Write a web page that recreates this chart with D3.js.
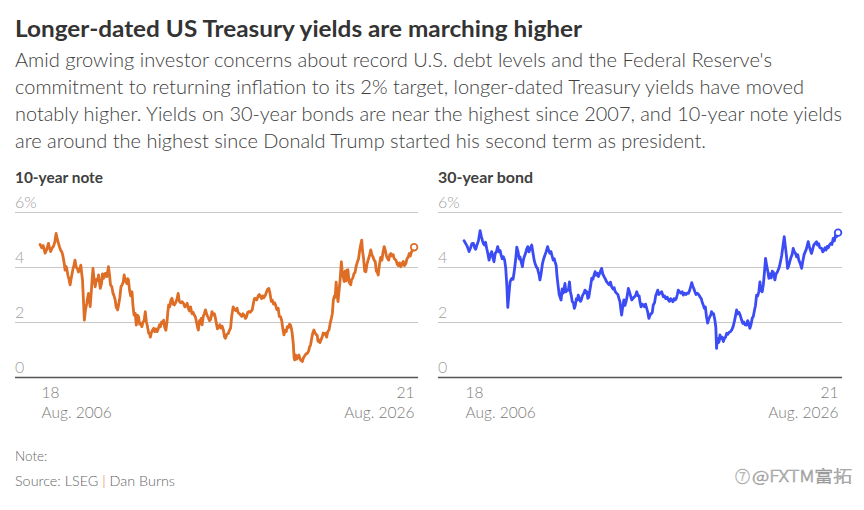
<!DOCTYPE html>
<html><head><meta charset="utf-8">
<script src="https://cdn.jsdelivr.net/npm/d3@7"></script>
<style>
body{margin:0;background:#fff;}
svg{display:block;font-family:Lato,"Open Sans",sans-serif;}
</style></head><body>
<svg id="c" width="864" height="510"></svg>
<script>
// ---- data (decimal year, yield %) ----
const tenDates = [2006.63,2006.72,2006.80,2006.90,2006.98,2007.08,2007.14,2007.20,2007.28,2007.34,2007.42,2007.49,2007.55,2007.62,2007.67,2007.74,2007.79,2007.84,2007.88,2007.93,2007.97,2008.02,2008.06,2008.12,2008.18,2008.24,2008.30,2008.38,2008.44,2008.50,2008.56,2008.62,2008.68,2008.75,2008.81,2008.86,2008.90,2008.95,2009.00,2009.06,2009.13,2009.18,2009.22,2009.27,2009.31,2009.36,2009.41,2009.46,2009.52,2009.58,2009.64,2009.70,2009.76,2009.81,2009.85,2009.92,2009.97,2010.03,2010.08,2010.12,2010.20,2010.29,2010.34,2010.40,2010.47,2010.53,2010.59,2010.65,2010.70,2010.78,2010.84,2010.90,2010.96,2011.02,2011.08,2011.13,2011.20,2011.28,2011.32,2011.36,2011.42,2011.48,2011.55,2011.60,2011.66,2011.72,2011.78,2011.84,2011.90,2011.96,2012.02,2012.08,2012.14,2012.20,2012.26,2012.32,2012.38,2012.44,2012.50,2012.53,2012.58,2012.64,2012.71,2012.76,2012.82,2012.89,2012.95,2013.02,2013.07,2013.13,2013.19,2013.24,2013.30,2013.36,2013.42,2013.47,2013.51,2013.57,2013.63,2013.69,2013.75,2013.81,2013.88,2013.96,2014.02,2014.08,2014.15,2014.23,2014.30,2014.38,2014.44,2014.50,2014.56,2014.62,2014.68,2014.76,2014.82,2014.88,2014.94,2015.00,2015.06,2015.10,2015.16,2015.20,2015.25,2015.30,2015.36,2015.42,2015.48,2015.54,2015.60,2015.65,2015.70,2015.76,2015.83,2015.90,2015.96,2016.00,2016.05,2016.12,2016.19,2016.25,2016.30,2016.37,2016.44,2016.50,2016.55,2016.62,2016.70,2016.76,2016.82,2016.88,2016.96,2017.03,2017.10,2017.17,2017.22,2017.30,2017.35,2017.42,2017.48,2017.55,2017.62,2017.68,2017.74,2017.80,2017.87,2017.93,2017.98,2018.05,2018.10,2018.15,2018.22,2018.30,2018.36,2018.42,2018.48,2018.54,2018.60,2018.69,2018.75,2018.81,2018.87,2018.93,2019.00,2019.05,2019.12,2019.18,2019.23,2019.30,2019.37,2019.43,2019.50,2019.56,2019.62,2019.68,2019.74,2019.80,2019.86,2019.92,2019.98,2020.03,2020.08,2020.12,2020.18,2020.22,2020.25,2020.30,2020.36,2020.42,2020.48,2020.54,2020.60,2020.66,2020.72,2020.80,2020.87,2020.93,2021.00,2021.05,2021.10,2021.16,2021.22,2021.28,2021.34,2021.40,2021.46,2021.50,2021.55,2021.60,2021.66,2021.73,2021.78,2021.84,2021.90,2021.96,2022.02,2022.09,2022.15,2022.22,2022.27,2022.32,2022.38,2022.42,2022.47,2022.52,2022.57,2022.62,2022.68,2022.75,2022.80,2022.85,2022.90,2022.95,2023.00,2023.04,2023.10,2023.16,2023.25,2023.30,2023.36,2023.42,2023.48,2023.55,2023.61,2023.67,2023.74,2023.80,2023.84,2023.88,2023.94,2024.00,2024.06,2024.12,2024.18,2024.25,2024.32,2024.38,2024.44,2024.50,2024.56,2024.62,2024.68,2024.72,2024.78,2024.85,2024.92,2024.98,2025.04,2025.10,2025.16,2025.22,2025.28,2025.34,2025.40,2025.46,2025.52,2025.58,2025.67,2025.74,2025.80,2025.86,2025.93,2026.00,2026.06,2026.12,2026.20,2026.26,2026.32,2026.38,2026.44,2026.50,2026.56,2026.64];
const tenValues = [4.82,4.70,4.78,4.50,4.62,4.86,4.68,4.56,4.70,4.74,4.90,5.22,5.02,4.85,4.74,4.60,4.56,4.45,4.31,4.10,3.89,4.02,3.95,3.70,3.55,3.35,3.60,3.89,4.05,4.25,4.00,3.95,3.82,3.90,4.07,3.75,3.53,2.80,2.07,2.45,2.68,2.90,3.04,2.75,2.56,3.00,3.50,3.95,3.55,3.28,3.55,3.50,3.71,3.45,3.22,3.40,3.75,3.59,3.70,3.77,3.65,4.01,3.75,3.35,3.28,3.05,2.95,2.80,2.55,2.44,2.65,2.90,3.28,3.35,3.45,3.71,3.50,3.40,3.58,3.53,3.15,2.95,3.10,2.60,2.25,2.32,1.89,2.25,2.19,1.92,1.95,1.83,2.00,2.05,2.38,2.00,1.83,1.60,1.55,1.45,1.60,1.70,1.77,1.65,1.75,1.65,1.75,1.90,1.83,2.00,1.95,2.07,1.80,1.70,2.00,2.40,2.62,2.55,2.80,2.86,2.65,2.62,2.70,2.85,3.04,2.75,2.70,2.74,2.68,2.55,2.60,2.68,2.50,2.40,2.55,2.30,2.35,2.25,2.19,2.00,1.80,1.71,2.05,1.95,2.13,1.90,2.20,2.30,2.44,2.30,2.20,2.13,2.05,2.10,2.38,2.25,2.30,2.19,2.00,1.75,1.83,1.90,1.78,1.85,1.70,1.45,1.41,1.55,1.58,1.70,1.77,2.20,2.55,2.45,2.42,2.50,2.35,2.30,2.26,2.20,2.30,2.25,2.13,2.20,2.35,2.38,2.35,2.40,2.44,2.70,2.85,2.86,2.80,2.95,3.00,2.92,2.85,2.95,2.88,2.98,3.10,3.20,3.22,3.05,2.75,2.80,2.65,2.70,2.62,2.45,2.50,2.20,2.19,2.05,1.75,1.53,1.70,1.65,1.83,1.80,1.92,1.89,1.75,1.59,1.20,0.70,0.62,0.80,0.65,0.75,0.80,0.65,0.60,0.56,0.70,0.78,0.85,0.86,0.95,1.10,1.16,1.40,1.60,1.71,1.60,1.55,1.50,1.30,1.35,1.25,1.35,1.47,1.60,1.55,1.59,1.45,1.65,1.71,1.95,2.15,2.32,2.80,2.95,2.90,3.45,3.00,2.74,3.10,3.50,4.19,3.80,3.65,3.47,3.85,3.50,3.89,3.90,3.45,3.35,3.55,3.59,3.75,3.80,4.05,4.19,4.30,4.65,4.85,4.98,4.60,4.30,3.85,3.83,4.10,4.25,4.40,4.62,4.45,4.37,4.25,4.20,3.85,3.80,3.71,4.05,4.35,4.25,4.55,4.74,4.60,4.40,4.31,4.25,4.45,4.49,4.40,4.45,4.30,4.25,4.10,4.05,4.15,4.01,4.12,4.20,4.05,4.13,4.30,4.35,4.49,4.40,4.55,4.60,4.72];

const thirtyDates = [2006.63,2006.72,2006.80,2006.90,2006.98,2007.05,2007.13,2007.20,2007.25,2007.32,2007.40,2007.49,2007.56,2007.62,2007.66,2007.72,2007.78,2007.84,2007.90,2007.97,2008.04,2008.11,2008.17,2008.23,2008.30,2008.36,2008.43,2008.50,2008.56,2008.61,2008.67,2008.73,2008.80,2008.86,2008.92,2008.97,2009.03,2009.09,2009.15,2009.20,2009.25,2009.30,2009.36,2009.41,2009.45,2009.52,2009.58,2009.62,2009.68,2009.75,2009.80,2009.85,2009.92,2009.98,2010.04,2010.10,2010.16,2010.25,2010.32,2010.38,2010.43,2010.50,2010.56,2010.60,2010.65,2010.69,2010.75,2010.82,2010.87,2010.94,2011.02,2011.10,2011.16,2011.22,2011.28,2011.34,2011.40,2011.46,2011.50,2011.56,2011.60,2011.64,2011.67,2011.72,2011.77,2011.82,2011.88,2011.94,2012.03,2012.08,2012.15,2012.21,2012.27,2012.32,2012.37,2012.42,2012.48,2012.53,2012.58,2012.64,2012.70,2012.74,2012.80,2012.86,2012.90,2012.96,2013.04,2013.10,2013.16,2013.20,2013.25,2013.30,2013.36,2013.42,2013.46,2013.52,2013.58,2013.64,2013.70,2013.76,2013.82,2013.90,2013.99,2014.05,2014.12,2014.20,2014.26,2014.33,2014.40,2014.46,2014.53,2014.60,2014.66,2014.72,2014.80,2014.86,2014.92,2014.97,2015.02,2015.06,2015.12,2015.18,2015.24,2015.30,2015.36,2015.42,2015.48,2015.54,2015.60,2015.66,2015.72,2015.80,2015.87,2015.94,2016.00,2016.04,2016.10,2016.16,2016.22,2016.28,2016.34,2016.40,2016.46,2016.52,2016.58,2016.64,2016.70,2016.75,2016.82,2016.88,2016.94,2016.99,2017.05,2017.12,2017.20,2017.29,2017.36,2017.42,2017.50,2017.56,2017.62,2017.68,2017.74,2017.80,2017.86,2017.92,2017.98,2018.04,2018.09,2018.16,2018.22,2018.30,2018.36,2018.42,2018.50,2018.56,2018.63,2018.70,2018.76,2018.81,2018.87,2018.93,2018.98,2019.04,2019.10,2019.18,2019.25,2019.32,2019.38,2019.44,2019.48,2019.54,2019.60,2019.66,2019.72,2019.78,2019.83,2019.87,2019.93,2019.98,2020.05,2020.10,2020.14,2020.18,2020.24,2020.28,2020.32,2020.38,2020.44,2020.50,2020.56,2020.62,2020.68,2020.74,2020.80,2020.88,2020.95,2021.03,2021.10,2021.16,2021.21,2021.28,2021.34,2021.40,2021.48,2021.54,2021.60,2021.66,2021.75,2021.80,2021.86,2021.92,2021.98,2022.05,2022.10,2022.16,2022.22,2022.28,2022.34,2022.40,2022.46,2022.52,2022.58,2022.64,2022.70,2022.76,2022.82,2022.88,2022.94,2023.00,2023.06,2023.12,2023.18,2023.26,2023.32,2023.38,2023.44,2023.50,2023.56,2023.62,2023.68,2023.76,2023.82,2023.88,2023.94,2024.00,2024.06,2024.12,2024.18,2024.24,2024.30,2024.36,2024.42,2024.48,2024.54,2024.60,2024.65,2024.69,2024.75,2024.82,2024.88,2024.94,2025.04,2025.10,2025.16,2025.22,2025.28,2025.34,2025.40,2025.49,2025.54,2025.60,2025.66,2025.76,2025.82,2025.88,2025.94,2026.00,2026.06,2026.12,2026.18,2026.25,2026.31,2026.38,2026.44,2026.50,2026.56,2026.64];
const thirtyValues = [4.96,4.85,4.75,4.56,4.70,4.85,4.86,4.70,4.64,4.80,4.95,5.32,5.10,4.95,4.86,4.80,4.90,4.68,4.50,4.25,4.45,4.56,4.35,4.19,4.50,4.55,4.74,4.55,4.60,4.44,4.30,4.37,4.25,3.95,3.30,2.53,3.00,3.46,3.55,3.59,3.55,3.77,4.10,4.40,4.72,4.55,4.30,4.37,4.20,4.01,4.25,4.37,4.50,4.65,4.74,4.55,4.65,4.80,4.50,4.25,4.13,4.00,3.95,3.83,3.70,3.53,3.75,4.10,4.25,4.40,4.55,4.74,4.60,4.50,4.56,4.40,4.25,4.30,4.19,4.05,3.70,3.45,3.28,3.00,2.90,2.80,3.20,3.05,3.40,3.10,3.15,3.16,3.46,3.10,2.95,2.74,2.70,2.50,2.60,2.85,2.80,2.98,2.85,2.75,2.80,2.95,3.05,3.16,3.05,3.10,2.86,2.90,3.15,3.40,3.59,3.55,3.70,3.83,3.70,3.77,3.65,3.80,3.95,3.75,3.65,3.55,3.46,3.40,3.35,3.45,3.28,3.20,3.25,3.10,3.04,3.00,2.85,2.74,2.45,2.25,2.55,2.80,2.60,2.75,2.95,3.22,3.10,2.95,2.80,2.85,2.90,2.95,3.10,2.95,2.95,2.74,2.55,2.65,2.62,2.55,2.65,2.50,2.35,2.13,2.25,2.30,2.35,2.62,2.70,2.95,3.05,3.16,3.00,3.05,3.10,2.92,2.95,2.85,2.90,2.80,2.75,2.85,2.80,2.74,2.85,2.80,2.85,3.00,3.16,3.10,3.05,3.10,2.98,3.05,3.00,3.05,3.04,3.15,3.30,3.43,3.30,3.20,3.10,3.00,3.05,3.00,2.92,2.85,2.70,2.60,2.50,2.55,2.20,1.96,2.10,2.20,2.25,2.38,2.30,2.30,2.07,1.80,1.04,1.40,1.25,1.30,1.53,1.40,1.45,1.29,1.40,1.45,1.59,1.55,1.62,1.65,1.71,1.85,2.05,2.25,2.44,2.30,2.35,2.25,2.07,1.95,2.00,1.90,1.89,2.05,1.95,1.77,1.90,2.15,2.19,2.40,2.60,2.98,2.95,3.10,3.46,3.15,3.10,3.35,3.80,4.31,4.05,3.85,3.59,3.75,3.60,3.85,3.80,3.53,3.75,3.80,3.90,4.01,4.20,4.40,4.70,5.10,4.75,4.40,3.95,4.05,4.20,4.35,4.45,4.68,4.55,4.50,4.37,4.45,4.25,4.15,4.05,3.95,4.20,4.45,4.55,4.65,4.92,4.75,4.60,4.49,4.65,4.80,4.85,4.92,4.80,4.85,4.70,4.68,4.55,4.60,4.70,4.62,4.75,4.70,4.80,4.86,4.82,5.04,4.95,5.15,5.10,5.25];

const yTicks = [0, 2, 4, 6];
const yTickLabels = ["0", "2", "4", "6%"];
const xTickDates = ["2006-08-18", "2026-08-21"];
const xTickDays = ["18", "21"];
const xTickMonths = ["Aug. 2006", "Aug. 2026"];

const titleText = "Longer-dated US Treasury yields are marching higher";
const bodyLines = [
  "Amid growing investor concerns about record U.S. debt levels and the Federal Reserve's",
  "commitment to returning inflation to its 2% target, longer-dated Treasury yields have moved",
  "notably higher. Yields on 30-year bonds are near the highest since 2007, and 10-year note yields",
  "are around the highest since Donald Trump started his second term as president."
];

// ---- helpers ----
function yearToDate(y){
  const yr = Math.floor(y), f = y - yr;
  const a = Date.UTC(yr,0,1), b = Date.UTC(yr+1,0,1);
  return new Date(a + f*(b-a));
}
const svg = d3.select("#c");

// ---- header ----
svg.append("text").attr("x",15).attr("y",36.5)
  .attr("font-size",22.5).attr("font-weight",700).attr("fill","#333")
  .attr("textLength",567).attr("lengthAdjust","spacingAndGlyphs")
  .text(titleText);
const bodyW = [757, 789, 827, 691];
bodyLines.forEach((t,i)=>{
  svg.append("text").attr("x",15).attr("y",67+i*27)
    .attr("font-size",19.5).attr("font-weight",300).attr("fill","#404040")
    .attr("textLength",bodyW[i]).attr("lengthAdjust","spacingAndGlyphs")
    .text(t);
});

// ---- panels ----
const panels = [
  {title:"10-year note", tw:88, x0:15, x1:418, lx0:40, lx1:414, dates:tenDates, vals:tenValues, color:"#de6d26"},
  {title:"30-year bond", tw:95, x0:438, x1:842, lx0:464, lx1:838, dates:thirtyDates, vals:thirtyValues, color:"#3b4cf5"}
];
const y = d3.scaleLinear().domain([0,6]).range([377,212]);
const tickFont = "Lato, sans-serif";

panels.forEach(p=>{
  const g = svg.append("g");
  g.append("text").attr("x",p.x0).attr("y",183)
    .attr("font-size",14.5).attr("font-weight",700).attr("fill","#404040")
    .attr("textLength",p.tw).attr("lengthAdjust","spacingAndGlyphs")
    .text(p.title);

  const x = d3.scaleUtc()
    .domain([new Date(xTickDates[0]+"T00:00:00Z"), new Date(xTickDates[1]+"T00:00:00Z")])
    .range([p.lx0, p.lx1]);

  // y axis with gridlines
  const yAxis = d3.axisRight(y).tickValues(yTicks)
    .tickSize(p.x1 - p.x0)
    .tickFormat((d,i)=>yTickLabels[i]);
  const ya = g.append("g").attr("transform",`translate(${p.x0},0)`).call(yAxis);
  ya.select(".domain").remove();
  ya.selectAll(".tick line").attr("stroke",d=>d===0?"#555":"#c8c8c8").attr("stroke-width",d=>d===0?1.6:1);
  ya.selectAll(".tick text").attr("x",0).attr("y",0).attr("dy",-5).attr("text-anchor","start")
    .attr("font-family",tickFont).attr("font-size",16).attr("font-weight",300).attr("fill","#a0a0a0");

  // x axis
  const xAxis = d3.axisBottom(x)
    .tickValues(xTickDates.map(s=>new Date(s+"T00:00:00Z")))
    .tickSize(0).tickFormat("");
  const xa = g.append("g").attr("transform","translate(0,377)").call(xAxis);
  xa.select(".domain").remove();
  xa.selectAll(".tick").each(function(d,i){
    const t = d3.select(this);
    const anchor = i===0?"start":"end";
    const dx = i===0?1:0;
    t.append("text").attr("x",dx).attr("y",21).attr("text-anchor",anchor)
      .attr("font-family",tickFont).attr("font-size",15.5).attr("font-weight",300).attr("fill","#7a7a7a")
      .text(xTickDays[i]);
    t.append("text").attr("x",dx).attr("y",41).attr("text-anchor",anchor)
      .attr("font-family",tickFont).attr("font-size",15.5).attr("font-weight",300).attr("fill","#7a7a7a")
      .text(xTickMonths[i]);
  });

  // line
  const data = p.dates.map((d,i)=>({d:yearToDate(d), v:p.vals[i]}));
  const line = d3.line().x(d=>x(d.d)).y(d=>y(d.v)).curve(d3.curveLinear);
  g.append("path").datum(data).attr("d",line)
    .attr("fill","none").attr("stroke",p.color).attr("stroke-width",2.8)
    .attr("stroke-linejoin","round").attr("stroke-linecap","round");
  const last = data[data.length-1];
  g.append("circle").attr("cx",x(last.d)).attr("cy",y(last.v)).attr("r",3.3)
    .attr("fill","#fff").attr("stroke",p.color).attr("stroke-width",1.8);
});

// ---- footer ----
svg.append("text").attr("x",15).attr("y",461).attr("font-size",13.5).attr("font-weight",300).attr("fill","#666").text("Note:");
const src = svg.append("text").attr("x",15).attr("y",486).attr("font-size",13.5).attr("font-weight",300).attr("fill","#666")
  .attr("textLength",160).attr("lengthAdjust","spacingAndGlyphs");
src.append("tspan").text("Source: LSEG ");
src.append("tspan").attr("fill","#de6d26").text("|");
src.append("tspan").text(" Dan Burns");

// watermark
svg.append("text").attr("x",735).attr("y",482).attr("font-size",15).attr("fill","#fff")
  .attr("stroke","#aaa").attr("stroke-width",0.5).attr("font-weight",300).attr("font-family","'Noto Sans CJK SC', sans-serif")
  .text("⑦");
svg.append("text").attr("x",752).attr("y",482).attr("font-size",15.5).attr("fill","#fff")
  .attr("stroke","#999").attr("stroke-width",0.6).attr("font-weight",300).attr("font-family","'Noto Sans CJK SC', sans-serif")
  .attr("textLength",100).attr("lengthAdjust","spacingAndGlyphs")
  .text("@FXTM富拓");
</script>
</body></html>
